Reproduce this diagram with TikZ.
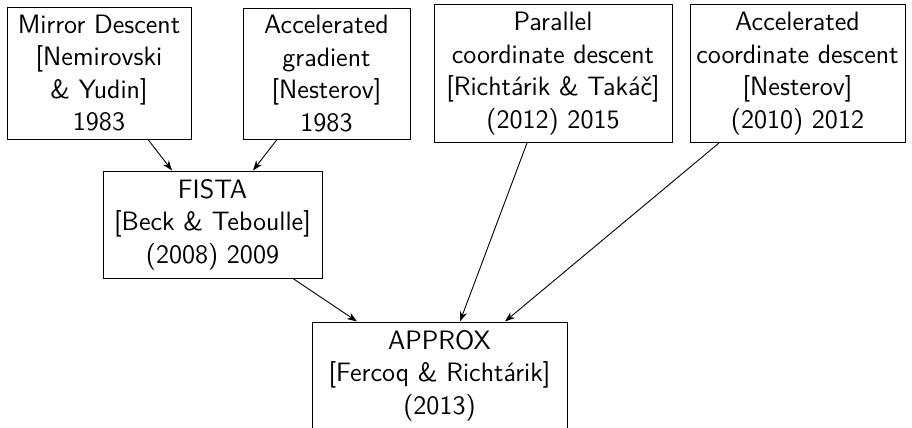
\documentclass[tikz,border=0pt]{standalone}
\usetikzlibrary{arrows.meta}
\begin{document}
\begin{tikzpicture}[x=0.5pt,y=-0.5pt,
  box/.style={draw, line width=0.5pt, inner sep=0pt, align=center,
    font=\sffamily\fontsize{13.3}{16.25}\selectfont},
  arr/.style={-{Stealth[length=5pt,width=3.6pt,inset=1.6pt]}, line width=0.45pt}]
\useasboundingbox (0,0) rectangle (912,428);
\clip (0,0) rectangle (912,428);
\node[box, minimum width=92pt, minimum height=66pt] (m) at (99,73)
  {Mirror Descent\\ {[}Nemirovski\\ \& Yudin{]}\\ 1983};
\node[box, minimum width=83.5pt, minimum height=65.5pt] (g) at (326.5,73.5)
  {Accelerated\\ gradient\\ {[}Nesterov{]}\\ 1983};
\node[box, minimum width=119pt, minimum height=69pt] (p) at (553,73.5)
  {Parallel\\ coordinate descent\\ {[}Richtárik \& Takáč{]}\\ (2012) 2015};
\node[box, minimum width=107.5pt, minimum height=69pt] (c) at (797.5,73.5)
  {Accelerated\\ coordinate descent\\ {[}Nesterov{]}\\ (2010) 2012};
\node[box, minimum width=109.5pt, minimum height=53.5pt] (f) at (212.5,224.5)
  {FISTA\\ {[}Beck \& Teboulle{]}\\ (2008) 2009};
\node[box, minimum width=127.5pt, minimum height=53.5pt] (a) at (439.5,375.5)
  {APPROX\\ {[}Fercoq \& Richtárik{]}\\ (2013)};
\draw[arr] ([xshift=24.5pt]m.south) -- ([xshift=-20.25pt]f.north);
\draw[arr] ([xshift=-24.75pt]g.south) -- ([xshift=20.25pt]f.north);
\draw[arr] ([xshift=40.25pt]f.south) -- ([xshift=-41.25pt]a.north);
\draw[arr] ([xshift=-13pt]p.south) -- ([xshift=10.25pt]a.north);
\draw[arr] ([xshift=-39.25pt]c.south) -- ([xshift=32.75pt]a.north);
\end{tikzpicture}
\end{document}
